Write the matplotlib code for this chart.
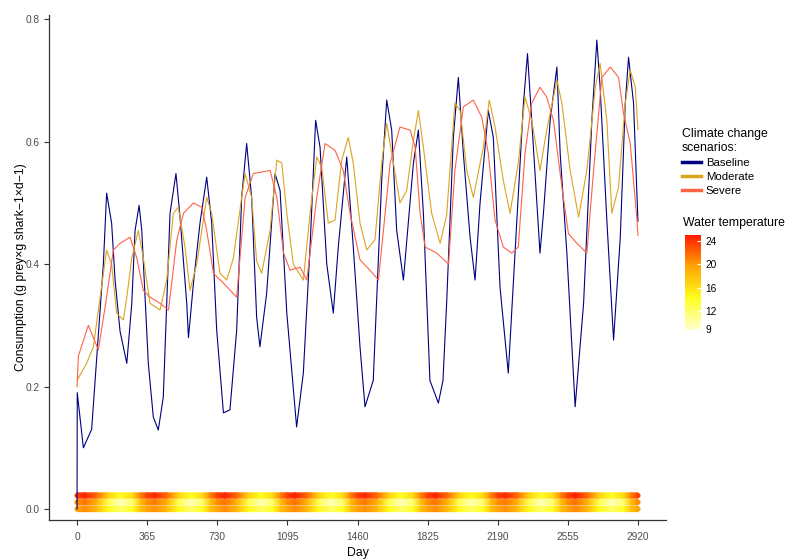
import numpy as np
import matplotlib
matplotlib.use("Agg")
import matplotlib.pyplot as plt
from matplotlib.colors import LinearSegmentedColormap, Normalize
from matplotlib.cm import ScalarMappable
from matplotlib.lines import Line2D

plt.rcParams["font.family"] = ["Liberation Sans", "DejaVu Sans"]

# consumption (day, g prey / g shark / d)
base_day = [0, 1, 33, 76, 137, 154, 180, 198, 224, 259, 285, 302, 323, 337, 371,
            397, 423, 449, 484, 515, 536, 571, 580, 606, 640, 675, 701, 727, 762, 796,
            831, 857, 883, 909, 935, 952, 987, 1031, 1057, 1092, 1143, 1178, 1213, 1242, 1265,
            1300, 1334, 1360, 1404, 1438, 1473, 1499, 1542, 1586, 1612, 1638, 1664, 1699, 1751, 1777,
            1803, 1837, 1881, 1905, 1924, 1959, 1985, 2011, 2046, 2072, 2098, 2141, 2167, 2202, 2245,
            2280, 2324, 2345, 2367, 2410, 2428, 2463, 2498, 2515, 2550, 2593, 2637, 2680, 2706, 2723,
            2758, 2793, 2828, 2854, 2871, 2897, 2920]
base_val = [0.0, 0.19, 0.10, 0.13, 0.40, 0.516, 0.467, 0.374, 0.29, 0.238, 0.336, 0.455, 0.496, 0.455, 0.238,
            0.15, 0.129, 0.183, 0.483, 0.548, 0.477, 0.336, 0.28, 0.369, 0.467, 0.542, 0.467, 0.292, 0.157, 0.162,
            0.292, 0.509, 0.597, 0.509, 0.313, 0.265, 0.352, 0.548, 0.52, 0.32, 0.134, 0.222, 0.428, 0.635, 0.591,
            0.40, 0.32, 0.428, 0.575, 0.428, 0.265, 0.167, 0.21, 0.537, 0.668, 0.619, 0.455, 0.374, 0.565, 0.619,
            0.483, 0.21, 0.173, 0.21, 0.336, 0.607, 0.705, 0.581, 0.444, 0.374, 0.50, 0.651, 0.607, 0.362, 0.222,
            0.418, 0.663, 0.744, 0.635, 0.418, 0.483, 0.635, 0.722, 0.581, 0.418, 0.167, 0.336, 0.635, 0.766, 0.689,
            0.472, 0.276, 0.444, 0.663, 0.738, 0.663, 0.47]

mod_day = [0, 50, 85, 120, 154, 180, 206, 241, 259, 285, 319, 345, 380, 432, 467,
           501, 527, 562, 588, 623, 675, 701, 744, 779, 814, 857, 875, 909, 935, 961,
           1005, 1040, 1066, 1092, 1126, 1178, 1213, 1248, 1274, 1308, 1343, 1378, 1412, 1438, 1473,
           1508, 1551, 1586, 1612, 1647, 1681, 1716, 1751, 1777, 1803, 1846, 1890, 1924, 1967, 1994,
           2029, 2063, 2115, 2146, 2176, 2219, 2254, 2297, 2332, 2367, 2410, 2445, 2498, 2524, 2567,
           2611, 2654, 2698, 2723, 2758, 2784, 2819, 2854, 2880, 2906, 2920]
mod_val = [0.21, 0.238, 0.265, 0.346, 0.423, 0.40, 0.32, 0.309, 0.346, 0.41, 0.455, 0.41, 0.336, 0.325, 0.374,
           0.483, 0.493, 0.428, 0.357, 0.40, 0.509, 0.483, 0.385, 0.374, 0.41, 0.509, 0.548, 0.509, 0.405, 0.385,
           0.455, 0.57, 0.565, 0.483, 0.40, 0.374, 0.483, 0.575, 0.558, 0.467, 0.472, 0.57, 0.607, 0.565, 0.467,
           0.423, 0.44, 0.565, 0.63, 0.565, 0.50, 0.52, 0.602, 0.651, 0.591, 0.483, 0.434, 0.48, 0.663, 0.651,
           0.553, 0.509, 0.591, 0.668, 0.624, 0.537, 0.483, 0.565, 0.673, 0.635, 0.553, 0.619, 0.70, 0.663, 0.553,
           0.477, 0.553, 0.689, 0.728, 0.635, 0.483, 0.526, 0.663, 0.717, 0.689, 0.62]

sev_day = [0, 7, 59, 85, 111, 154, 189, 224, 276, 311, 345, 380, 432, 476, 519,
           554, 606, 649, 675, 710, 762, 831, 875, 918, 953, 1005, 1040, 1075, 1109, 1161,
           1196, 1248, 1291, 1343, 1386, 1421, 1473, 1525, 1569, 1595, 1630, 1681, 1734, 1760, 1786,
           1812, 1873, 1934, 1967, 2011, 2063, 2107, 2141, 2176, 2219, 2263, 2297, 2332, 2367, 2410,
           2445, 2480, 2524, 2558, 2602, 2654, 2689, 2732, 2776, 2819, 2845, 2880, 2915, 2920]
sev_val = [0.20, 0.25, 0.30, 0.28, 0.26, 0.346, 0.423, 0.434, 0.444, 0.41, 0.357, 0.346, 0.336, 0.325, 0.439,
           0.483, 0.50, 0.493, 0.455, 0.385, 0.369, 0.346, 0.509, 0.548, 0.55, 0.553, 0.509, 0.418, 0.39, 0.395,
           0.374, 0.509, 0.597, 0.586, 0.553, 0.483, 0.407, 0.39, 0.374, 0.455, 0.565, 0.624, 0.619, 0.591, 0.483,
           0.428, 0.418, 0.40, 0.553, 0.657, 0.668, 0.64, 0.581, 0.472, 0.428, 0.418, 0.428, 0.581, 0.663, 0.689,
           0.673, 0.635, 0.526, 0.45, 0.434, 0.418, 0.553, 0.705, 0.722, 0.705, 0.646, 0.597, 0.472, 0.447]

# water temperature strips at the bottom (deg C)
temp_day = [0, 40, 100, 160, 225, 290, 330,
            365, 405, 465, 525, 590, 655, 695,
            730, 770, 830, 890, 955, 1020, 1060,
            1095, 1135, 1195, 1255, 1320, 1385, 1425,
            1460, 1500, 1560, 1620, 1685, 1750, 1790,
            1825, 1865, 1925, 1985, 2050, 2115, 2155,
            2190, 2230, 2290, 2350, 2415, 2480, 2520,
            2555, 2595, 2655, 2715, 2780, 2845, 2885,
            2920]
temp_upper = [23.5, 24.5, 22, 17, 14, 16.5, 21,
              23.5, 24.3, 22, 17, 14, 16.5, 21,
              23.5, 24.5, 22, 17, 14.2, 16.5, 21,
              23.5, 24.6, 22, 17, 14, 16.5, 21,
              23.5, 24.4, 22, 17, 14, 16.5, 21,
              23.5, 24.6, 22, 17, 14.2, 16.5, 21,
              23.5, 24.3, 22, 17, 14, 16.5, 21,
              23.5, 24.7, 22, 17, 14, 16.5, 21,
              23.5]
temp_middle = [20.5, 21.5, 19, 13, 9.5, 12, 18,
               20.5, 21.2, 19, 13, 9.5, 12, 18,
               20.5, 21.5, 19, 13, 9.8, 12, 18,
               20.5, 21.6, 19, 13, 9.5, 12, 18,
               20.5, 21.3, 19, 13, 9.5, 12, 18,
               20.5, 21.5, 19, 13, 9.8, 12, 18,
               20.5, 21.2, 19, 13, 9.5, 12, 18,
               20.5, 21.6, 19, 13, 9.5, 12, 18,
               20.5]
temp_lower = [19.5, 20.5, 18.5, 14.5, 12, 14, 18,
              19.5, 20.3, 18.5, 14.5, 12, 14, 18,
              19.5, 20.5, 18.5, 14.5, 12.2, 14, 18,
              19.5, 20.6, 18.5, 14.5, 12, 14, 18,
              19.5, 20.4, 18.5, 14.5, 12, 14, 18,
              19.5, 20.5, 18.5, 14.5, 12.2, 14, 18,
              19.5, 20.3, 18.5, 14.5, 12, 14, 18,
              19.5, 20.7, 18.5, 14.5, 12, 14, 18,
              19.5]
band_y = [0.022, 0.011, 0.0]

scenarios = ["Baseline", "Moderate", "Severe"]
line_colors = ["#000080", "#DAA520", "#FF6347"]
temp_ticks = [9, 12, 16, 20, 24]
day_ticks = [0, 365, 730, 1095, 1460, 1825, 2190, 2555, 2920]

cmap = LinearSegmentedColormap.from_list(
    "wt", ["#FFFFD2", "#FFFF1E", "#FFA500", "#FF1A00"])
norm = Normalize(vmin=8.8, vmax=25.0)

fig = plt.figure(figsize=(7.87, 5.6), dpi=100)
ax = fig.add_axes([49 / 787, 1 - 520 / 560, (666 - 49) / 787, (520 - 15) / 560])

series = [(base_day, base_val), (mod_day, mod_val), (sev_day, sev_val)]
for (d, v), c in zip(series, line_colors):
    ax.plot(d, v, color=c, lw=0.8)

# temperature strips, colour blended between the read samples
half = 0.0044
for yb, tv in zip(band_y, [temp_upper, temp_middle, temp_lower]):
    xx = np.array([temp_day, temp_day], dtype=float)
    yy = np.array([[yb - half] * len(temp_day), [yb + half] * len(temp_day)])
    cc = np.array([tv, tv], dtype=float)
    ax.pcolormesh(xx, yy, cc, cmap=cmap, norm=norm, shading="gouraud",
                  antialiased=False, zorder=1)
    ax.scatter([temp_day[0], temp_day[-1]], [yb, yb], c=[tv[0], tv[-1]],
               cmap=cmap, norm=norm, s=14, marker="o", linewidths=0, zorder=1)

ax.set_xlim(-146, 3066)
ax.set_ylim(-0.018, 0.807)
ax.set_xticks(day_ticks)
ax.set_yticks([0.0, 0.2, 0.4, 0.6, 0.8])
ax.set_yticklabels(["0.0", "0.2", "0.4", "0.6", "0.8"])
for side in ["top", "right"]:
    ax.spines[side].set_visible(False)
for side in ["left", "bottom"]:
    ax.spines[side].set_color("#333333")
    ax.spines[side].set_linewidth(0.9)
ax.tick_params(colors="#333333", labelcolor="#4D4D4D", labelsize=7.3, length=3.5, width=0.8)
ax.tick_params(axis="x", pad=5)
ax.set_xlabel("Day", fontsize=8.8, labelpad=4)
ax.set_ylabel("Consumption (g prey\u00d7g shark\u22121\u00d7d\u22121)", fontsize=8.8)
ax.yaxis.set_label_coords(-0.036, 0.5)

handles = [Line2D([0], [0], color=c, lw=2.5) for c in line_colors]
fig.legend(handles, scenarios, title="Climate change\nscenarios:", loc="upper left",
           bbox_to_anchor=(682 / 787, 1 - 128 / 560), frameon=False, fontsize=8.2,
           title_fontsize=8.8, handlelength=1.7, handletextpad=0.4, labelspacing=0.35,
           borderpad=0, borderaxespad=0, alignment="left")

fig.text(683 / 787, 1 - 223 / 560, "Water temperature", fontsize=8.8, va="center", ha="left")
cax = fig.add_axes([685 / 787, 1 - 330 / 560, 16 / 787, 95 / 560])
cb = fig.colorbar(ScalarMappable(norm=norm, cmap=cmap), cax=cax, ticks=temp_ticks)
cb.outline.set_visible(False)
cax.tick_params(length=3, color="white", direction="in", width=0.8, labelsize=7.3, pad=3)

fig.savefig("out.png", dpi=100)
